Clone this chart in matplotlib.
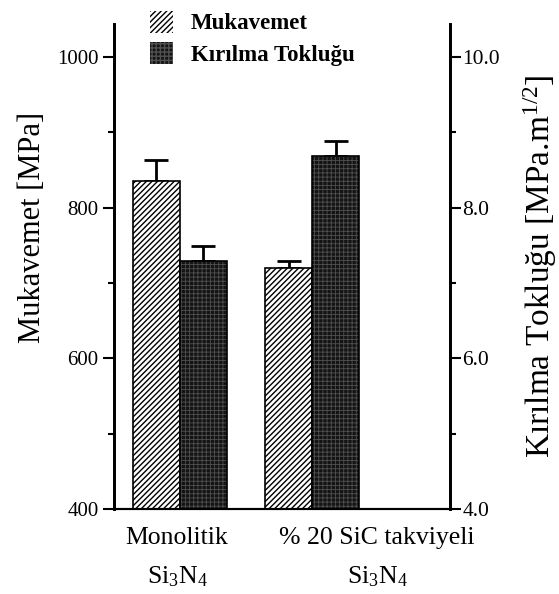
import numpy as np
import matplotlib
matplotlib.use("Agg")
from matplotlib import pyplot as plt
from matplotlib.patches import Patch

plt.rcParams['font.family'] = ['Liberation Serif', 'DejaVu Serif']
plt.rcParams['mathtext.fontset'] = 'custom'
plt.rcParams['mathtext.rm'] = 'Liberation Serif'
plt.rcParams['mathtext.it'] = 'Liberation Serif:italic'
plt.rcParams['hatch.linewidth'] = 1.0

# data
groups = ['Monolitik\nSi$_3$N$_4$', '% 20 SiC takviyeli\nSi$_3$N$_4$']
strength = [836, 720]          # Mukavemet [MPa]
strength_err = [27, 9]
toughness = [7.29, 8.69]       # Kirilma toklugu [MPa.m^1/2]
toughness_err = [0.2, 0.2]

group_x = np.array([1.40, 4.22])
label_x = [1.34, 5.6]
bw = 1.0

fig = plt.figure(figsize=(5.59, 5.94), dpi=100)
ax = fig.add_axes([114 / 559, 1 - 509 / 594, 336 / 559, 485 / 594])
ax2 = ax.twinx()

# Mukavemet bars (hatched, left axis)
ax.bar(group_x - bw / 2, strength, bw, bottom=0, color='white', edgecolor='black',
       hatch='//////', linewidth=1.2, zorder=2)
ax.errorbar(group_x - bw / 2, strength, yerr=[[0, 0], strength_err], fmt='none',
            ecolor='black', elinewidth=2, capsize=8.5, capthick=2, zorder=1)

# Kirilma toklugu bars (dark dotted, right axis)
plt.rcParams['hatch.linewidth'] = 0.6
ax2.bar(group_x + bw / 2, toughness, bw, color='#141414', edgecolor='#505050',
        hatch='++++', linewidth=0, zorder=2)
ax2.bar(group_x + bw / 2, toughness, bw, color='none', edgecolor='black',
        linewidth=1.2, zorder=3)
ax2.errorbar(group_x + bw / 2, toughness, yerr=[[0, 0], toughness_err], fmt='none',
             ecolor='black', elinewidth=2, capsize=8.5, capthick=2, zorder=1)

ax.set_xlim(0, 336 / 47)
ax.set_ylim(400, 1044)
ax2.set_ylim(4, 10.44)

ax.set_yticks([400, 600, 800, 1000])
ax.set_yticks([500, 700, 900], minor=True)
ax2.set_yticks([4, 6, 8, 10])
ax2.set_yticks([5, 7, 9], minor=True)
ax2.set_yticklabels(['4.0', '6.0', '8.0', '10.0'])

for a in (ax, ax2):
    a.spines['top'].set_visible(False)
    a.spines['left'].set_linewidth(2)
    a.spines['right'].set_linewidth(2)
    a.spines['bottom'].set_linewidth(1.5)
    a.tick_params(which='major', length=8, width=1.5)
    a.tick_params(which='minor', length=4, width=1.5)
ax.tick_params(which='major', labelsize=15, pad=3)
ax2.tick_params(which='major', labelsize=15.5, pad=1)
ax.set_xticks([])

ax.set_ylabel('Mukavemet [MPa]', fontsize=22)
ax.yaxis.set_label_coords(-0.2, 0.58)
ax2.set_ylabel(r'Kırılma Tokluğu [MPa.m$^{1/2}$]', fontsize=24, rotation=90)
ax2.yaxis.set_label_coords(1.213, 0.5)

for lx, g in zip(label_x, groups):
    ax.text(lx, 376, g, ha='center', va='top', fontsize=18.5, linespacing=1.8)

plt.rcParams['hatch.linewidth'] = 1.0
handles = [Patch(facecolor='white', edgecolor='black', hatch='//////', linewidth=0),
           Patch(facecolor='#141414', edgecolor='#505050', hatch='++++', linewidth=0)]
fig.legend(handles, ['Mukavemet', 'Kırılma Tokluğu'], loc='upper left',
           bbox_to_anchor=(129 / 559, 1 + 10 / 594), frameon=False,
           prop={'weight': 'bold', 'size': 16.5}, handlelength=1.0, handleheight=1.1,
           handletextpad=0.8, labelspacing=0.35)

fig.savefig('out.png', dpi=100)
